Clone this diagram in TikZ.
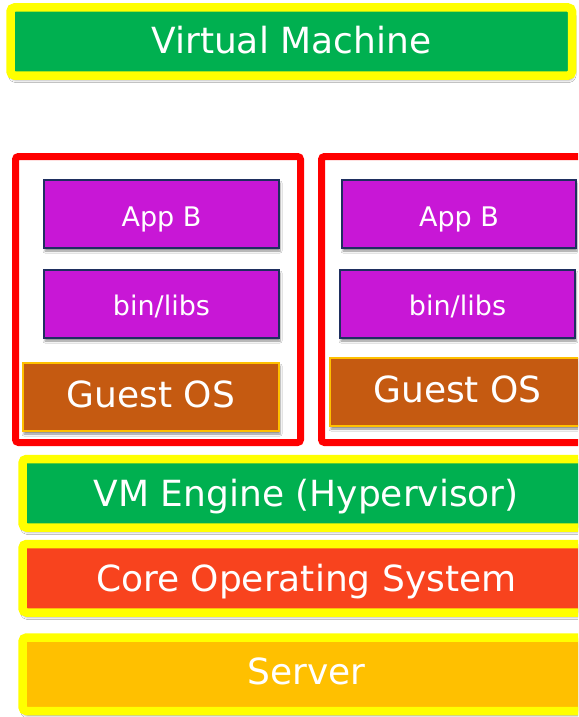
\documentclass[tikz,border=0pt]{standalone}
\usepackage{fontspec}
\setmainfont{DejaVu Sans}
\usetikzlibrary{shadows.blur}
\definecolor{vmgreen}{HTML}{00B050}
\definecolor{hiyellow}{HTML}{FFFF00}
\definecolor{corered}{HTML}{F8431E}
\definecolor{serverorange}{HTML}{FFC000}
\definecolor{apppurple}{HTML}{C817D6}
\definecolor{navy}{HTML}{1F2F60}
\definecolor{guestbrown}{HTML}{C55A11}
\tikzset{
  bigtext/.style={text=white, font=\fontsize{36}{40}\selectfont, text height=26pt, text depth=0pt},
  smalltext/.style={text=white, font=\fontsize{27}{30}\selectfont, text height=19.5pt, text depth=0pt},
  layer/.style={draw=hiyellow, line width=8.5pt, rounded corners=4pt, inner sep=0pt, outer sep=0pt, bigtext,
    blur shadow={shadow xshift=1pt, shadow yshift=-4pt, shadow blur radius=3pt, shadow opacity=50}},
  vmbox/.style={draw=red, line width=7pt, rounded corners=3pt, inner sep=0pt, outer sep=0pt},
  appbox/.style={draw=navy, fill=apppurple, line width=2pt, inner sep=0pt, outer sep=0pt,
    minimum height=68pt, smalltext,
    blur shadow={shadow xshift=1pt, shadow yshift=-3pt, shadow blur radius=2pt, shadow opacity=45}},
  guestbox/.style={draw=serverorange, fill=guestbrown, line width=2pt, inner sep=0pt, outer sep=0pt,
    minimum height=68pt, bigtext,
    blur shadow={shadow xshift=1pt, shadow yshift=-3pt, shadow blur radius=2pt, shadow opacity=45}}
}
\begin{document}
\begin{tikzpicture}[x=1pt, y=-1pt]
\useasboundingbox (0,0) rectangle (578,717);
\clip (0,0) rectangle (578,717);
\fill[white] (0,0) rectangle (578,717);

% top label
\node[layer, fill=vmgreen, minimum width=561.5pt, minimum height=68pt] (vm) at (291.25,41.5) {\raisebox{1.5pt}{Virtual Machine}};

% two virtual machines
\node[vmbox, minimum width=285pt, minimum height=286pt] (vmleft) at (158,299.5) {};
\node[vmbox, minimum width=288.5pt, minimum height=286pt] (vmright) at (465.75,299.5) {};

\node[appbox, minimum width=235pt] (appl) at (161.5,214) {\raisebox{-3pt}{App B}};
\node[appbox, minimum width=235pt] (binl) at (161.5,304) {\raisebox{-2pt}{bin/libs}};
\node[guestbox, minimum width=256pt] (guestl) at (151,397) {\raisebox{3pt}{Guest OS}};

\node[appbox, minimum width=234pt] (appr) at (459,214) {\raisebox{-3pt}{App B}};
\node[appbox, minimum width=235pt] (binr) at (457.5,304) {\raisebox{-2pt}{bin/libs}};
\node[guestbox, minimum width=255pt] (guestr) at (457.5,392) {\raisebox{2.5pt}{Guest OS}};

% host layers
\node[layer, fill=vmgreen, minimum width=567.5pt, minimum height=68.5pt] (hyp) at (306.25,493.25) {VM Engine (Hypervisor)};
\node[layer, fill=corered, minimum width=567.5pt, minimum height=68.5pt] (core) at (306.25,578.25) {Core Operating System};
\node[layer, fill=serverorange, minimum width=567.5pt, minimum height=73.5pt] (server) at (306.25,674.25) {\raisebox{2.5pt}{Server}};
\end{tikzpicture}
\end{document}
